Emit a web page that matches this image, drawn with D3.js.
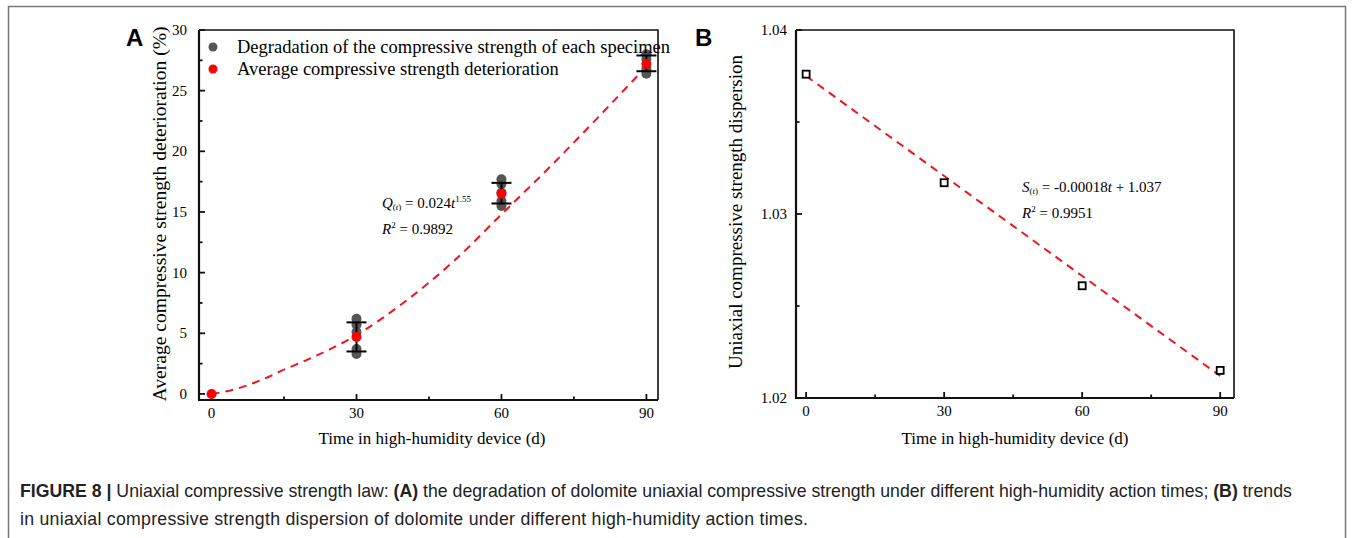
<!DOCTYPE html>
<html>
<head>
<meta charset="utf-8">
<script src="https://cdn.jsdelivr.net/npm/d3@7"></script>
<style>
  body { margin: 0; background: #fff; }
  svg { display: block; }
</style>
</head>
<body>
<div id="chart"></div>
<script>
// ---- panel A data ----
const daysA = [0, 30, 60, 90];
const specimenA = [            // grey points, one list per time
  [0],
  [6.2, 5.7, 5.1, 3.7, 3.3],
  [17.7, 17.3, 16.6, 15.9, 15.5],
  [28.0, 27.6, 26.8, 26.4]
];
const meanA = [0, 4.7, 16.5, 27.2];
const errLowA = [0, 3.5, 15.7, 26.6];
const errHighA = [0, 5.9, 17.4, 27.9];
const fitTA = [0, 5, 10, 15, 20, 30, 40, 50, 60, 70, 80, 90];
const fitQA = [0, 0.4, 1.1, 2.0, 2.85, 4.85, 7.6, 10.9, 14.8, 18.7, 22.8, 27.0];
const yTicksA = [0, 5, 10, 15, 20, 25, 30];
const xTicks = [0, 30, 60, 90];

// ---- panel B data ----
const daysB = [0, 30, 60, 90];
const dispersionB = [1.0376, 1.0317, 1.0261, 1.0215];
const fitTB = [0, 90];
const fitSB = [1.0375, 1.0212];
const yTicksB = [1.02, 1.03, 1.04];

const svg = d3.select("#chart").append("svg")
    .attr("width", 1354)
    .attr("height", 538);

// outer frame of the figure
svg.append("rect")
    .attr("x", 8.5).attr("y", 6.5)
    .attr("width", 1337).attr("height", 560)
    .attr("fill", "none")
    .attr("stroke", "#777")
    .attr("stroke-width", 1.5);

const serif = "'Liberation Serif', 'Times New Roman', serif";

// helper that draws a framed plot with inward ticks
function frame(g, x, y, xMinor) {
    const [x0, x1] = x.range();
    const [y0, y1] = y.range();
    // top + right border
    g.append("path")
        .attr("d", `M${x0},${y1}H${x1}V${y0}`)
        .attr("fill", "none").attr("stroke", "#111").attr("stroke-width", 1.6);
    // bottom + left axis
    g.append("path")
        .attr("d", `M${x0},${y1}V${y0}H${x1}`)
        .attr("fill", "none").attr("stroke", "#111").attr("stroke-width", 2.2);

    g.selectAll(".xt").data(xTicks).join("line")
        .attr("x1", d => x(d)).attr("x2", d => x(d))
        .attr("y1", y0).attr("y2", y0 - 6)
        .attr("stroke", "#111").attr("stroke-width", 1.8);
    g.selectAll(".xm").data(xMinor).join("line")
        .attr("x1", d => x(d)).attr("x2", d => x(d))
        .attr("y1", y0).attr("y2", y0 - 3.5)
        .attr("stroke", "#111").attr("stroke-width", 1.8);
    g.selectAll(".xl").data(xTicks).join("text")
        .attr("x", d => x(d)).attr("y", y0 + 18)
        .attr("text-anchor", "middle")
        .style("font-family", serif).style("font-size", "15px")
        .text(d => d);
}

// ================= Panel A =================
const xA = d3.scaleLinear().domain([-2.6, 92.4]).range([199, 658]);
const yA = d3.scaleLinear().domain([-0.5, 30]).range([400, 30]);
const gA = svg.append("g");

frame(gA, xA, yA, [15, 45, 75]);

gA.selectAll(".yt").data(yTicksA).join("line")
    .attr("x1", 199).attr("x2", 205)
    .attr("y1", d => yA(d)).attr("y2", d => yA(d))
    .attr("stroke", "#111").attr("stroke-width", 1.8);
gA.selectAll(".ym").data(yTicksA.slice(0, -1).map(d => d + 2.5)).join("line")
    .attr("x1", 199).attr("x2", 202.5)
    .attr("y1", d => yA(d)).attr("y2", d => yA(d))
    .attr("stroke", "#111").attr("stroke-width", 1.8);
gA.selectAll(".yl").data(yTicksA).join("text")
    .attr("x", 187).attr("y", d => yA(d) + 5)
    .attr("text-anchor", "end")
    .style("font-family", serif).style("font-size", "15px")
    .text(d => d);

// fitted curve
const lineA = d3.line()
    .x((d, i) => xA(fitTA[i]))
    .y(d => yA(d))
    .curve(d3.curveMonotoneX);
gA.append("path")
    .datum(fitQA)
    .attr("d", lineA)
    .attr("fill", "none")
    .attr("stroke", "#f0141e")
    .attr("stroke-width", 2)
    .attr("stroke-dasharray", "8,6");

// specimen points
const specPts = [];
specimenA.forEach((vals, i) => vals.forEach(v => specPts.push({ t: daysA[i], v: v })));
gA.selectAll(".spec").data(specPts.filter(d => d.t > 0)).join("circle")
    .attr("cx", d => xA(d.t)).attr("cy", d => yA(d.v))
    .attr("r", 5)
    .attr("fill", "#555");

// error bars
const errIdx = [1, 2, 3];
gA.selectAll(".eb").data(errIdx).join("line")
    .attr("x1", i => xA(daysA[i])).attr("x2", i => xA(daysA[i]))
    .attr("y1", i => yA(errLowA[i])).attr("y2", i => yA(errHighA[i]))
    .attr("stroke", "#000").attr("stroke-width", 2);
gA.selectAll(".capl").data(errIdx).join("line")
    .attr("x1", i => xA(daysA[i]) - 10).attr("x2", i => xA(daysA[i]) + 10)
    .attr("y1", i => yA(errLowA[i])).attr("y2", i => yA(errLowA[i]))
    .attr("stroke", "#000").attr("stroke-width", 2);
gA.selectAll(".caph").data(errIdx).join("line")
    .attr("x1", i => xA(daysA[i]) - 10).attr("x2", i => xA(daysA[i]) + 10)
    .attr("y1", i => yA(errHighA[i])).attr("y2", i => yA(errHighA[i]))
    .attr("stroke", "#000").attr("stroke-width", 2);

// means
gA.selectAll(".mean").data(meanA).join("circle")
    .attr("cx", (d, i) => xA(daysA[i])).attr("cy", d => yA(d))
    .attr("r", 5)
    .attr("fill", "#f00");

// legend
const legA = gA.append("g").style("font-family", serif).style("font-size", "18.5px");
legA.append("circle").attr("cx", 213).attr("cy", 47).attr("r", 4.5).attr("fill", "#555");
legA.append("text").attr("x", 237).attr("y", 53).text("Degradation of the compressive strength of each specimen");
legA.append("circle").attr("cx", 213).attr("cy", 69).attr("r", 4.5).attr("fill", "#f00");
legA.append("text").attr("x", 237).attr("y", 75).text("Average compressive strength deterioration");

// equation
const eqA = gA.append("text").attr("x", 382).attr("y", 208)
    .style("font-family", serif).style("font-size", "15px");
eqA.append("tspan").style("font-style", "italic").text("Q");
eqA.append("tspan").style("font-size", "9px").attr("dy", 2).text("(").append("tspan").style("font-style", "italic").text("t");
eqA.append("tspan").style("font-size", "9px").text(")");
eqA.append("tspan").attr("dy", -2).text(" = 0.024");
eqA.append("tspan").style("font-style", "italic").text("t");
eqA.append("tspan").style("font-size", "9px").attr("dy", -6).text("1.55");
const r2A = gA.append("text").attr("x", 382).attr("y", 234)
    .style("font-family", serif).style("font-size", "15px");
r2A.append("tspan").style("font-style", "italic").text("R");
r2A.append("tspan").style("font-size", "9px").attr("dy", -6).text("2");
r2A.append("tspan").attr("dy", 6).text(" = 0.9892");

// axis titles
gA.append("text")
    .attr("transform", "translate(166,214) rotate(-90)")
    .attr("text-anchor", "middle")
    .style("font-family", serif).style("font-size", "19.6px")
    .text("Average compressive strength deterioration (%)");
gA.append("text")
    .attr("x", 432).attr("y", 444)
    .attr("text-anchor", "middle")
    .style("font-family", serif).style("font-size", "17px")
    .text("Time in high-humidity device (d)");

svg.append("text").attr("x", 126).attr("y", 46)
    .style("font-family", "'Liberation Sans', Arial, sans-serif")
    .style("font-size", "24px").style("font-weight", "bold")
    .text("A");

// ================= Panel B =================
const xB = d3.scaleLinear().domain([-2.2, 93]).range([796, 1234]);
const yB = d3.scaleLinear().domain([1.02, 1.04]).range([398, 30]);
const gB = svg.append("g");

frame(gB, xB, yB, [15, 45, 75]);

gB.selectAll(".yt").data(yTicksB).join("line")
    .attr("x1", 796).attr("x2", 802)
    .attr("y1", d => yB(d)).attr("y2", d => yB(d))
    .attr("stroke", "#111").attr("stroke-width", 1.8);
gB.selectAll(".ym").data([1.025, 1.035]).join("line")
    .attr("x1", 796).attr("x2", 799.5)
    .attr("y1", d => yB(d)).attr("y2", d => yB(d))
    .attr("stroke", "#111").attr("stroke-width", 1.8);
gB.selectAll(".yl").data(yTicksB).join("text")
    .attr("x", 787).attr("y", d => yB(d) + 5)
    .attr("text-anchor", "end")
    .style("font-family", serif).style("font-size", "15px")
    .text(d => d3.format(".2f")(d));

gB.append("path")
    .datum(fitSB)
    .attr("d", d3.line().x((d, i) => xB(fitTB[i])).y(d => yB(d)))
    .attr("fill", "none")
    .attr("stroke", "#f0141e")
    .attr("stroke-width", 2)
    .attr("stroke-dasharray", "8,6");

gB.selectAll(".sq").data(dispersionB).join("rect")
    .attr("x", (d, i) => xB(daysB[i]) - 3.5)
    .attr("y", d => yB(d) - 3.5)
    .attr("width", 7).attr("height", 7)
    .attr("fill", "#fff")
    .attr("stroke", "#000").attr("stroke-width", 1.8);

const eqB = gB.append("text").attr("x", 1022).attr("y", 192)
    .style("font-family", serif).style("font-size", "15px");
eqB.append("tspan").style("font-style", "italic").text("S");
eqB.append("tspan").style("font-size", "9px").attr("dy", 2).text("(").append("tspan").style("font-style", "italic").text("t");
eqB.append("tspan").style("font-size", "9px").text(")");
eqB.append("tspan").attr("dy", -2).text(" = -0.00018");
eqB.append("tspan").style("font-style", "italic").text("t");
eqB.append("tspan").text(" + 1.037");
const r2B = gB.append("text").attr("x", 1022).attr("y", 218)
    .style("font-family", serif).style("font-size", "15px");
r2B.append("tspan").style("font-style", "italic").text("R");
r2B.append("tspan").style("font-size", "9px").attr("dy", -6).text("2");
r2B.append("tspan").attr("dy", 6).text(" = 0.9951");

gB.append("text")
    .attr("transform", "translate(742,212) rotate(-90)")
    .attr("text-anchor", "middle")
    .style("font-family", serif).style("font-size", "19px")
    .text("Uniaxial compressive strength dispersion");
gB.append("text")
    .attr("x", 1015).attr("y", 444)
    .attr("text-anchor", "middle")
    .style("font-family", serif).style("font-size", "17px")
    .text("Time in high-humidity device (d)");

svg.append("text").attr("x", 695).attr("y", 46)
    .style("font-family", "'Liberation Sans', Arial, sans-serif")
    .style("font-size", "24px").style("font-weight", "bold")
    .text("B");

// ================= caption =================
const cap = svg.append("g")
    .style("font-family", "'Liberation Sans', Arial, sans-serif")
    .style("font-size", "17.7px").style("fill", "#222");
const c1 = cap.append("text").attr("x", 20).attr("y", 497);
c1.append("tspan").style("font-weight", "bold").text("FIGURE 8 | ");
c1.append("tspan").text("Uniaxial compressive strength law: ");
c1.append("tspan").style("font-weight", "bold").text("(A)");
c1.append("tspan").text(" the degradation of dolomite uniaxial compressive strength under different high-humidity action times; ");
c1.append("tspan").style("font-weight", "bold").text("(B)");
c1.append("tspan").text(" trends");
cap.append("text").attr("x", 20).attr("y", 525)
    .attr("textLength", 788).attr("lengthAdjust", "spacing")
    .text("in uniaxial compressive strength dispersion of dolomite under different high-humidity action times.");
</script>
</body>
</html>
